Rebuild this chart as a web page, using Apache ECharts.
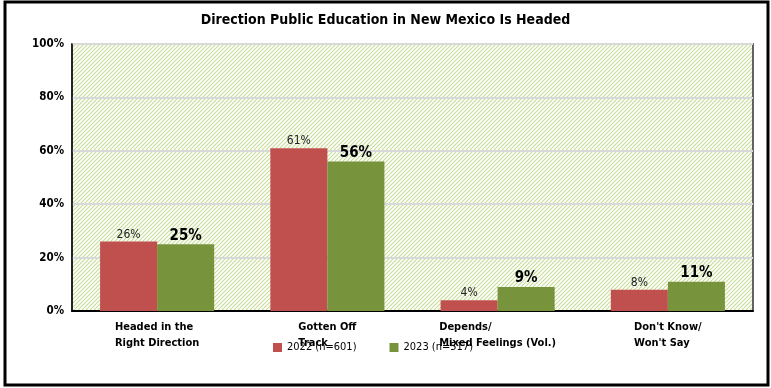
<!DOCTYPE html>
<html><head><meta charset="utf-8">
<script src="https://cdn.jsdelivr.net/npm/echarts@6/dist/echarts.min.js"></script>
<style>html,body{margin:0;padding:0;background:#fff}#c{width:771px;height:388px}</style>
</head><body><div id="c"></div>
<script>
const title = 'Direction Public Education in New Mexico Is Headed';
const categories = ['Headed in the\nRight Direction', 'Gotten Off\nTrack', 'Depends/\nMixed Feelings (Vol.)', "Don't Know/\nWon't Say"];
const series2022 = [26, 61, 4, 8];
const series2023 = [25, 56, 9, 11];
const seriesNames = ['2022 (n=601)', '2023 (n=517)'];
const yTicks = [0, 20, 40, 60, 80, 100];

const FONT = "'Liberation Sans Narrow','DejaVu Sans Condensed','Liberation Sans',sans-serif";
const LABEL_FONT = "bold 11px " + FONT;

// hatch pattern
const pc = document.createElement('canvas');
pc.width = 4; pc.height = 4;
const g = pc.getContext('2d');
g.fillStyle = '#ffffff'; g.fillRect(0,0,4,4);
g.strokeStyle = '#c8dc98'; g.lineWidth = 1.1;
g.beginPath(); g.moveTo(-1,5); g.lineTo(5,-1); g.stroke();
g.beginPath(); g.moveTo(3,5); g.lineTo(5,3); g.stroke();
g.beginPath(); g.moveTo(-1,1); g.lineTo(1,-1); g.stroke();

const chart = echarts.init(document.getElementById('c'), null, {renderer:'canvas'});

chart.setOption({
  animation: false,
  textStyle: {fontFamily: FONT},
  title: {text: title, left: 'center', top: 8,
    textStyle: {fontSize: 14, fontWeight: 'bold', color: '#000', fontFamily: FONT}},
  grid: {left: 72, right: 18, top: 44, bottom: 77, show: true,
    backgroundColor: {image: pc, repeat: 'repeat'}, borderColor: '#333', borderWidth: 1.5},
  legend: {left: 268, top: 337, itemWidth: 9, itemHeight: 9, itemGap: 33,
    icon: 'rect', textStyle: {fontSize: 11, color: '#000', fontFamily: FONT}, data: seriesNames},
  xAxis: {type: 'category', data: categories,
    axisLine: {lineStyle: {color: '#000', width: 2}}, axisTick: {show: false},
    axisLabel: {show: false}},
  yAxis: {type: 'value', min: 0, max: 100, interval: 20,
    axisLine: {show: true, lineStyle: {color: '#111', width: 1.5}},
    axisTick: {show: false},
    splitLine: {lineStyle: {color: '#d9d9d9', width: 2}},
    axisLabel: {formatter: v => v + '%', fontSize: 11.5, fontWeight: 'bold', color: '#000', margin: 8}},
  series: [
    {name: seriesNames[0], type: 'bar', data: series2022, barGap: 0, barCategoryGap: '33%',
      itemStyle: {color: '#c0504d'},
      label: {show: true, position: 'top', formatter: '{c}%', fontSize: 12, color: '#222', distance: 1}},
    {name: seriesNames[1], type: 'bar', data: series2023,
      itemStyle: {color: '#77933c'},
      label: {show: true, position: 'top', formatter: '{c}%', fontSize: 15, fontWeight: 'bold', color: '#000', distance: 1}}
  ]
});

// measure label blocks so lines are left-aligned within a block centred on the category
const mc = document.createElement('canvas').getContext('2d');
mc.font = LABEL_FONT;
const gfx = [{type: 'rect', shape: {x: 5, y: 2, width: 763, height: 383},
  style: {fill: 'none', stroke: '#000', lineWidth: 3}, silent: true}];
categories.forEach((c, i) => {
  const px = chart.convertToPixel({xAxisIndex: 0}, i);
  const w = Math.max(...c.split('\n').map(s => mc.measureText(s).width));
  gfx.push({type: 'text', x: px - w / 2, y: 319,
    style: {text: c, font: LABEL_FONT, fill: '#000', lineHeight: 16, align: 'left'}});
});
chart.setOption({graphic: gfx});
</script></body></html>
